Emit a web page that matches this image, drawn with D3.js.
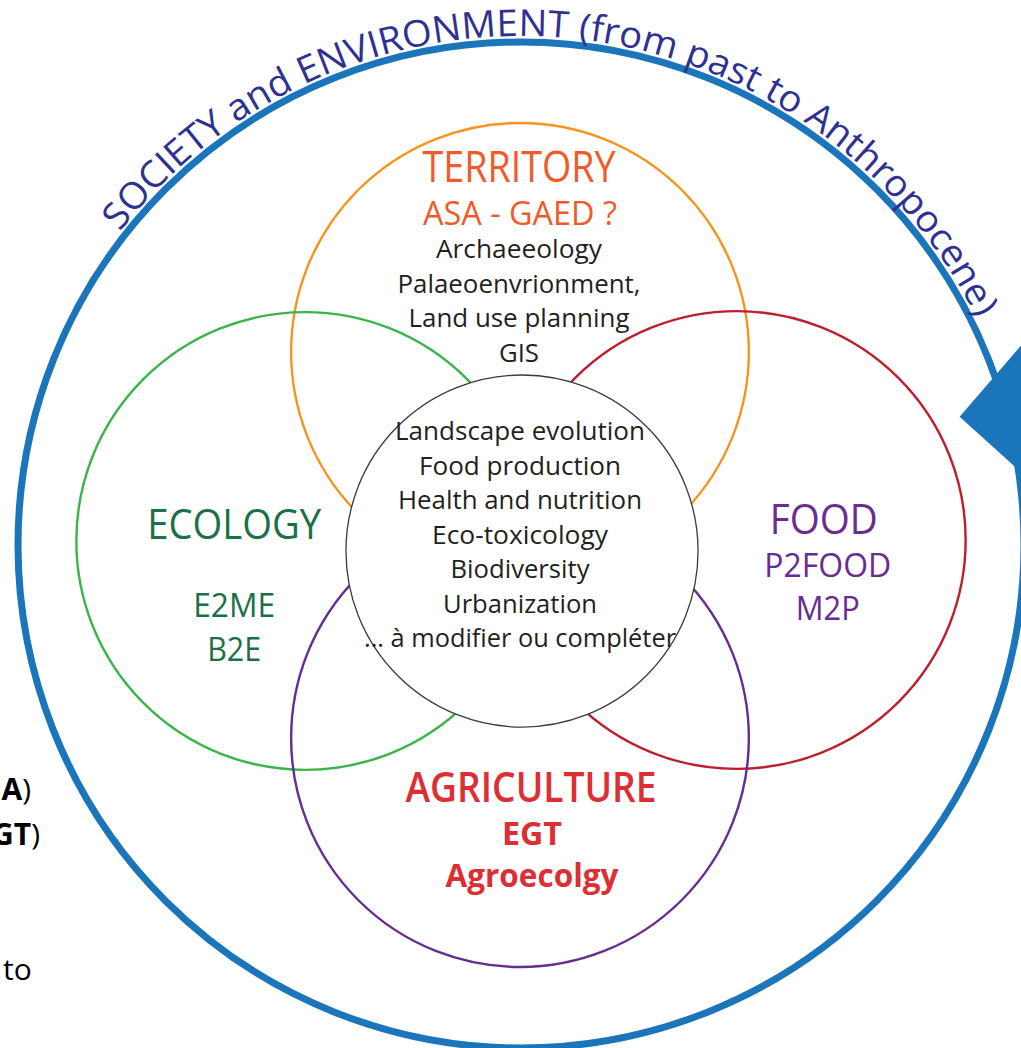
<!DOCTYPE html>
<html>
<head>
<meta charset="utf-8">
<script src="https://cdn.jsdelivr.net/npm/d3@7"></script>
<style>
  html, body { margin: 0; padding: 0; background: #fff; }
  svg { display: block; }
</style>
</head>
<body>
<div id="chart"></div>
<script>
// ---- content ----
const outerTitle = 'SOCIETY and ENVIRONMENT (from past to Anthropocene)';
const domains = ['TERRITORY', 'ECOLOGY', 'FOOD', 'AGRICULTURE'];
const domainUnits = [['ASA - GAED ?'], ['E2ME', 'B2E'], ['P2FOOD', 'M2P'], ['EGT', 'Agroecolgy']];
const territoryTopics = ['Archaeeology', 'Palaeoenvrionment,', 'Land use planning', 'GIS'];
const sharedThemes = ['Landscape evolution', 'Food production', 'Health and nutrition',
  'Eco-toxicology', 'Biodiversity', 'Urbanization', '... à modifier ou compléter'];

// ---- layout (ring units: 1 = radius of the outer ring) ----
const W = 1021, H = 1048;
const ring = { cx: 521, cy: 545, r: 503 };
const domainPos = [[-0.002, -0.384], [-0.429, -0.008], [0.429, -0.010], [-0.002, 0.384]];
const domainRadius = 0.455;
const corePos = [0.002, 0.012], coreRadius = 0.35;

const domainStroke = ['#f7941d', '#3ab54a', '#be1e2d', '#662d91'];
const domainInk = ['#f15a29', '#1b7048', '#6b2c91', '#dd2e33'];

// label blocks, offsets in px from each circle centre
const titleLayout = [
  { dx: -1, dy: -170, size: 43, w: 193, weight: 400 },
  { dx: -71, dy: -2, size: 42, w: 174, weight: 400 },
  { dx: 87, dy: -6, size: 42, w: 108, weight: 400 },
  { dx: 11, dy: 64, size: 41, w: 251, weight: 600 }
];
const unitLayout = [
  { dx: 0, dy: [-127], size: 32, w: [194], weight: 400 },
  { dx: -71, dy: [76, 120], size: 33, w: [82, 54], weight: 400 },
  { dx: 91, dy: [37, 80], size: 33, w: [127, 64], weight: 400 },
  { dx: 12, dy: [107, 149], size: 32, w: [60, 173], weight: 700 }
];
const topicDy = [-94, -59, -25, 10], topicW = [166, 243, 221, 40];
const themeW = [250, 202, 244, 176, 139, 154, 312];

const x = d3.scaleLinear().domain([-1, 1]).range([ring.cx - ring.r, ring.cx + ring.r]);
const y = d3.scaleLinear().domain([-1, 1]).range([ring.cy - ring.r, ring.cy + ring.r]);
const len = d3.scaleLinear().domain([0, 1]).range([0, ring.r]);
const rad = d => d * Math.PI / 180;

const svg = d3.select('#chart').append('svg')
  .attr('width', W).attr('height', H)
  .style('font-family', '"Open Sans", "Noto Sans", sans-serif');

// outer ring with arrow head
svg.append('circle')
  .attr('cx', x(0)).attr('cy', y(0)).attr('r', len(1))
  .attr('fill', 'none').attr('stroke', '#1b75bb').attr('stroke-width', 7);

const polar = (deg, off) => [x(0) + (len(1) + off) * Math.cos(rad(deg)),
                             y(0) + (len(1) + off) * Math.sin(rad(deg))];
const arrowPts = [polar(-22, 40), polar(-16.3, -46), polar(-6, 20)];
svg.append('path')
  .attr('d', d3.line()(arrowPts) + 'Z')
  .attr('fill', '#1b75bb');

// title along the ring
const a0 = rad(-142), a1 = rad(-26), rText = len(1) + 6;
const tp = d3.path();
tp.arc(x(0), y(0), rText, a0, a1);
svg.append('defs').append('path').attr('id', 'ringPath').attr('d', tp.toString());
svg.append('text')
  .attr('fill', '#2e3192')
  .attr('font-size', 37)
  .append('textPath')
  .attr('href', '#ringPath')
  .attr('textLength', rText * (a1 - a0) - 4)
  .attr('lengthAdjust', 'spacingAndGlyphs')
  .text(outerTitle);

// domain circles
const centers = domainPos.map(p => [x(p[0]), y(p[1])]);
svg.selectAll('circle.domain')
  .data(domains)
  .join('circle')
  .attr('class', 'domain')
  .attr('cx', (d, i) => centers[i][0])
  .attr('cy', (d, i) => centers[i][1])
  .attr('r', len(domainRadius))
  .attr('fill', 'none')
  .attr('stroke', (d, i) => domainStroke[i])
  .attr('stroke-width', 2.4);

// shared core
const core = [x(corePos[0]), y(corePos[1])];
svg.append('circle')
  .attr('cx', core[0]).attr('cy', core[1]).attr('r', len(coreRadius))
  .attr('fill', '#fff').attr('stroke', '#3a3a3a').attr('stroke-width', 1.3);

const fit = (sel, w) => sel.attr('textLength', w).attr('lengthAdjust', 'spacingAndGlyphs');

// domain titles and units
domains.forEach((name, i) => {
  const c = centers[i], t = titleLayout[i], u = unitLayout[i];
  svg.append('text')
    .attr('x', c[0] + t.dx).attr('y', c[1] + t.dy)
    .attr('text-anchor', 'middle')
    .attr('font-size', t.size).attr('font-weight', t.weight)
    .attr('fill', domainInk[i])
    .text(name)
    .call(fit, t.w);
  domainUnits[i].forEach((unit, j) => {
    svg.append('text')
      .attr('x', c[0] + u.dx).attr('y', c[1] + u.dy[j])
      .attr('text-anchor', 'middle')
      .attr('font-size', u.size).attr('font-weight', u.weight)
      .attr('fill', domainInk[i])
      .text(unit)
      .call(fit, u.w[j]);
  });
});

// territory topics
svg.selectAll('text.topic')
  .data(territoryTopics)
  .join('text')
  .attr('class', 'topic')
  .attr('x', centers[0][0] - 1)
  .attr('y', (d, i) => centers[0][1] + topicDy[i])
  .attr('text-anchor', 'middle')
  .attr('font-size', 25)
  .attr('fill', '#231f20')
  .text(d => d)
  .each(function (d, i) { fit(d3.select(this), topicW[i]); });

// shared themes in the core
const themeY = d3.scaleLinear().domain([0, sharedThemes.length - 1]).range([core[1] - 111, core[1] + 96]);
svg.selectAll('text.theme')
  .data(sharedThemes)
  .join('text')
  .attr('class', 'theme')
  .attr('x', core[0] - 2)
  .attr('y', (d, i) => themeY(i))
  .attr('text-anchor', 'middle')
  .attr('font-size', 26)
  .attr('fill', '#231f20')
  .text(d => d)
  .each(function (d, i) { fit(d3.select(this), themeW[i]); });

// cut-off notes from the slide behind, on the left edge
const note1 = svg.append('text').attr('x', 31).attr('y', 800).attr('text-anchor', 'end')
  .attr('font-size', 30).attr('fill', '#000');
note1.append('tspan').attr('font-weight', 700).text('A');
note1.append('tspan').text(')');
const note2 = svg.append('text').attr('x', 40).attr('y', 845).attr('text-anchor', 'end')
  .attr('font-size', 30).attr('fill', '#000');
note2.append('tspan').attr('font-weight', 700).text('GT');
note2.append('tspan').text(')');
svg.append('text').attr('x', 3).attr('y', 980)
  .attr('font-size', 30).attr('fill', '#000').text('to');
</script>
</body>
</html>
